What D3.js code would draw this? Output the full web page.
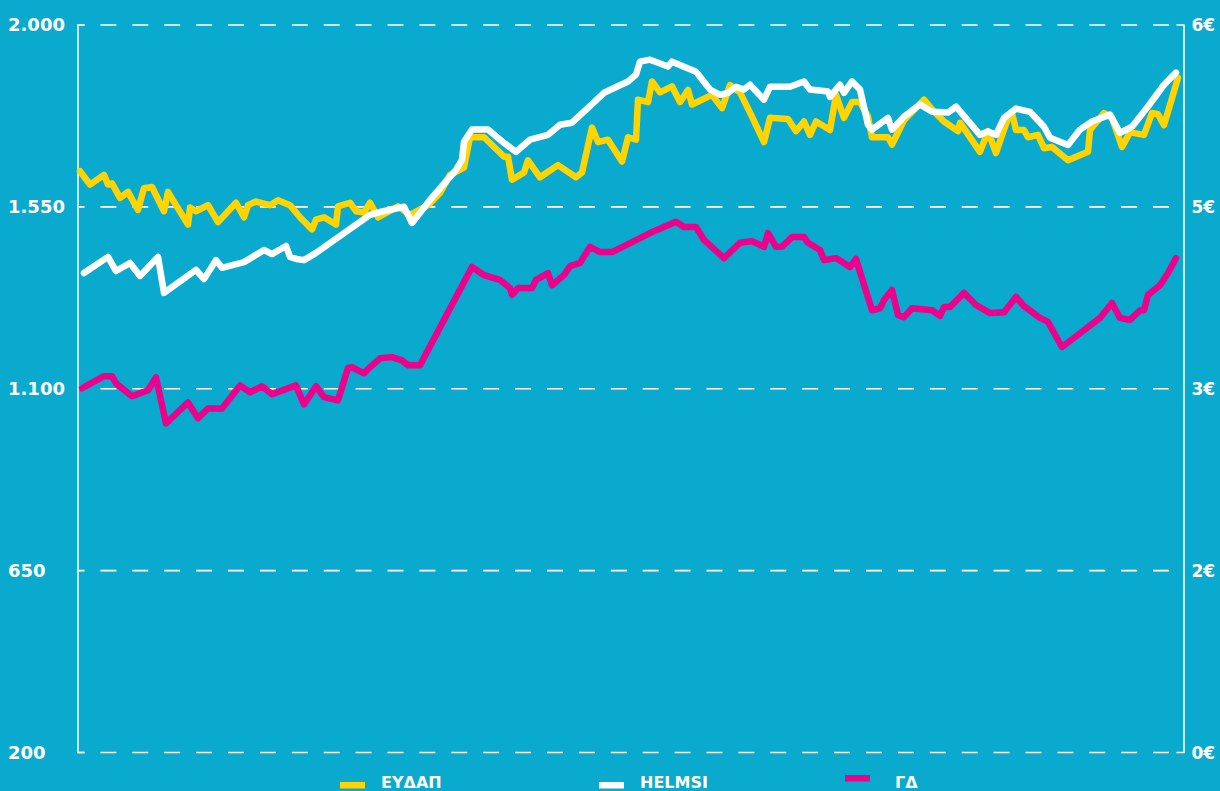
<!DOCTYPE html>
<html>
<head>
<meta charset="utf-8">
<script src="https://cdn.jsdelivr.net/npm/d3@7"></script>
<style>
  body { margin: 0; background: #09aacd; overflow: hidden; }
  svg { display: block; }
</style>
</head>
<body>
<svg width="1220" height="791"></svg>
<script>
// [day, share price in €] - right axis
var eydap = [
  [0,4.79],[5,4.68],[12,4.76],[14,4.68],[16,4.69],[20,4.57],[24,4.62],[29,4.47],[32,4.65],[36,4.66],
  [42,4.46],[44,4.62],[48,4.51],[54,4.35],[55,4.49],[58,4.46],[64,4.51],[69,4.37],[78,4.53],[82,4.41],
  [84,4.51],[88,4.54],[95,4.51],[99,4.55],[105,4.51],[110,4.41],[116,4.31],[118,4.39],[122,4.41],[128,4.35],
  [129,4.50],[135,4.53],[138,4.46],[142,4.45],[145,4.53],[149,4.41],[159,4.50],[165,4.43],[174,4.51],[180,4.61],
  [185,4.76],[192,4.82],[195,5.07],[202,5.07],[212,4.91],[214,4.91],[216,4.72],[222,4.78],[224,4.88],[230,4.74],
  [239,4.84],[248,4.74],[251,4.78],[256,5.15],[259,5.03],[264,5.05],[271,4.87],[274,5.07],[278,5.05],[279,5.38],
  [284,5.36],[286,5.53],[290,5.44],[296,5.49],[300,5.36],[304,5.46],[306,5.34],[316,5.42],[321,5.31],[325,5.50],
  [330,5.44],[336,5.24],[342,5.03],[345,5.23],[354,5.22],[358,5.12],[362,5.20],[365,5.09],[368,5.20],[375,5.13],
  [378,5.42],[382,5.23],[386,5.36],[390,5.36],[394,5.24],[396,5.07],[404,5.07],[406,5.01],[412,5.21],[422,5.38],
  [426,5.30],[432,5.20],[439,5.12],[440,5.19],[450,4.95],[454,5.12],[458,4.94],[464,5.23],[466,5.27],[468,5.13],
  [472,5.13],[474,5.07],[479,5.09],[482,4.98],[486,4.99],[494,4.88],[504,4.95],[505,5.13],[512,5.27],[516,5.23],
  [521,4.99],[525,5.11],[532,5.09],[536,5.27],[539,5.26],[542,5.17],[549,5.56]
];

// [day, index points] - left axis
var helmsi = [
  [2,1385],[14,1425],[18,1390],[25,1410],[30,1378],[39,1425],[42,1336],[58,1393],[62,1370],[68,1417],
  [71,1398],[82,1412],[92,1442],[96,1432],[103,1452],[105,1425],[109,1419],[112,1417],[118,1435],[145,1529],[150,1536],
  [162,1549],[166,1509],[175,1566],[188,1640],[191,1665],[192,1710],[196,1740],[204,1740],[212,1707],[218,1685],
  [225,1715],[234,1727],[240,1752],[246,1757],[254,1794],[262,1831],[274,1859],[278,1876],[280,1908],[285,1913],
  [294,1896],[296,1908],[308,1883],[315,1839],[320,1826],[324,1831],[328,1846],[332,1839],[335,1851],[342,1814],
  [345,1846],[355,1846],[362,1859],[365,1839],[374,1834],[375,1821],[380,1851],[382,1831],[386,1859],[390,1839],
  [394,1752],[396,1740],[404,1769],[406,1740],[412,1772],[420,1802],[426,1784],[434,1782],[438,1797],[450,1727],
  [454,1735],[458,1727],[462,1769],[468,1792],[475,1784],[482,1747],[485,1720],[494,1702],[500,1740],[506,1760],
  [515,1777],[520,1732],[526,1747],[534,1797],[542,1851],[548,1881]
];

var gd = [
  [1,1100],[12,1130],[16,1130],[18,1112],[26,1080],[34,1095],[38,1127],[43,1013],[54,1065],[59,1026],
  [64,1050],[71,1050],[80,1107],[85,1090],[91,1105],[96,1085],[108,1107],[112,1060],[118,1105],[122,1078],
  [129,1070],[134,1150],[136,1152],[142,1137],[145,1152],[150,1174],[156,1177],[161,1169],[164,1157],[170,1157],
  [196,1400],[202,1380],[210,1368],[215,1348],[216,1331],[219,1348],[226,1348],[228,1368],[234,1385],[236,1355],
  [242,1380],[245,1402],[250,1410],[255,1450],[260,1437],[266,1437],[285,1484],[298,1512],[302,1499],[308,1499],
  [312,1467],[322,1422],[330,1460],[336,1464],[342,1450],[344,1484],[348,1450],[351,1450],[356,1474],[362,1474],
  [364,1460],[370,1442],[372,1417],[378,1422],[385,1400],[388,1420],[396,1293],[400,1298],[402,1318],[406,1343],
  [409,1281],[412,1276],[416,1298],[426,1293],[430,1279],[432,1301],[435,1301],[442,1336],[448,1306],[455,1286],
  [462,1288],[468,1326],[472,1303],[480,1274],[484,1264],[491,1202],[500,1236],[510,1274],[516,1311],[520,1274],
  [525,1269],[530,1293],[532,1293],[534,1331],[540,1355],[544,1385],[548,1422]
];

var seriesNames = ["ΕΥΔΑΠ", "HELMSI", "ΓΔ"];
var seriesColors = ["#ffd400", "#ffffff", "#ec008c"];
var leftTicks = [200, 650, 1100, 1550, 2000];
var rightTicks = [0, 1.5, 3, 4.5, 6];

var svg = d3.select("svg");
var width = 1220, height = 791;

svg.append("rect")
  .attr("width", width)
  .attr("height", height)
  .attr("fill", "#09aacd");

var margin = { top: 24.5, left: 77.5, right: 1183.5, bottom: 752 };

var greek = d3.formatLocale({ decimal: ",", thousands: ".", grouping: [3], currency: ["", "€"] });

var x = d3.scaleLinear()
  .domain([0, 549])
  .range([80, 1178]);

var yLeft = d3.scaleLinear()
  .domain([200, 2000])
  .range([margin.bottom, margin.top]);

var yRight = d3.scaleLinear()
  .domain([0, 6])
  .range([margin.bottom, margin.top]);

// left axis + dashed gridlines
var leftAxis = d3.axisLeft(yLeft)
  .tickValues(leftTicks)
  .tickFormat(greek.format(","))
  .tickSize(-(margin.right - margin.left))
  .tickSizeOuter(-7);

var gLeft = svg.append("g")
  .attr("transform", "translate(" + margin.left + ",0)")
  .call(leftAxis);

gLeft.select(".domain").attr("stroke", "#fff").attr("stroke-width", 1.5);
gLeft.selectAll(".tick line")
  .attr("stroke", "#fff")
  .attr("stroke-width", 1.6)
  .attr("stroke-dasharray", "16,15.9")
  .attr("stroke-dashoffset", 9);
gLeft.selectAll(".tick text")
  .attr("x", 8 - margin.left)
  .attr("dy", "0.36em")
  .style("text-anchor", "start")
  .style("font-family", "'DejaVu Sans', sans-serif")
  .style("font-weight", "bold")
  .style("font-size", "18px")
  .attr("fill", "#fff");

// right axis (€)
var rightAxis = d3.axisRight(yRight)
  .tickValues(rightTicks)
  .tickFormat(function(d) { return Math.round(d) + "€"; })
  .tickSize(0)
  .tickSizeOuter(-7)
  .tickPadding(8);

var gRight = svg.append("g")
  .attr("transform", "translate(" + margin.right + ",0)")
  .call(rightAxis);

gRight.select(".domain").attr("stroke", "#fff").attr("stroke-width", 1.5);
gRight.selectAll(".tick text")
  .attr("dy", "0.36em")
  .style("font-family", "'DejaVu Sans', sans-serif")
  .style("font-weight", "bold")
  .style("font-size", "17px")
  .attr("fill", "#fff");

// lines
var lineLeft = d3.line()
  .x(function(d) { return x(d[0]); })
  .y(function(d) { return yLeft(d[1]); });

var lineRight = d3.line()
  .x(function(d) { return x(d[0]); })
  .y(function(d) { return yRight(d[1]); });

var series = [
  { data: eydap, line: lineRight },
  { data: helmsi, line: lineLeft },
  { data: gd, line: lineLeft }
];

series.forEach(function(s, i) {
  svg.append("path")
    .datum(s.data)
    .attr("d", s.line)
    .attr("fill", "none")
    .attr("stroke", seriesColors[i])
    .attr("stroke-width", 6.5)
    .attr("stroke-linejoin", "round")
    .attr("stroke-linecap", "round");
});

// legend along the bottom edge
var legendX = [340, 599, 845];
var swatchY = [782, 782, 775];

var legend = svg.selectAll("g.legend")
  .data(seriesNames)
  .enter()
  .append("g")
  .attr("class", "legend")
  .attr("transform", function(d, i) { return "translate(" + legendX[i] + ",0)"; });

legend.append("rect")
  .attr("x", 0)
  .attr("y", function(d, i) { return swatchY[i]; })
  .attr("width", 25)
  .attr("height", 6.5)
  .attr("fill", function(d, i) { return seriesColors[i]; });

legend.append("text")
  .attr("x", function(d, i) { return i == 2 ? 50 : 41; })
  .attr("y", 788)
  .style("font-family", "'DejaVu Sans', sans-serif")
  .style("font-weight", "bold")
  .style("font-size", "16px")
  .attr("fill", "#fff")
  .text(function(d) { return d; });
</script>
</body>
</html>
